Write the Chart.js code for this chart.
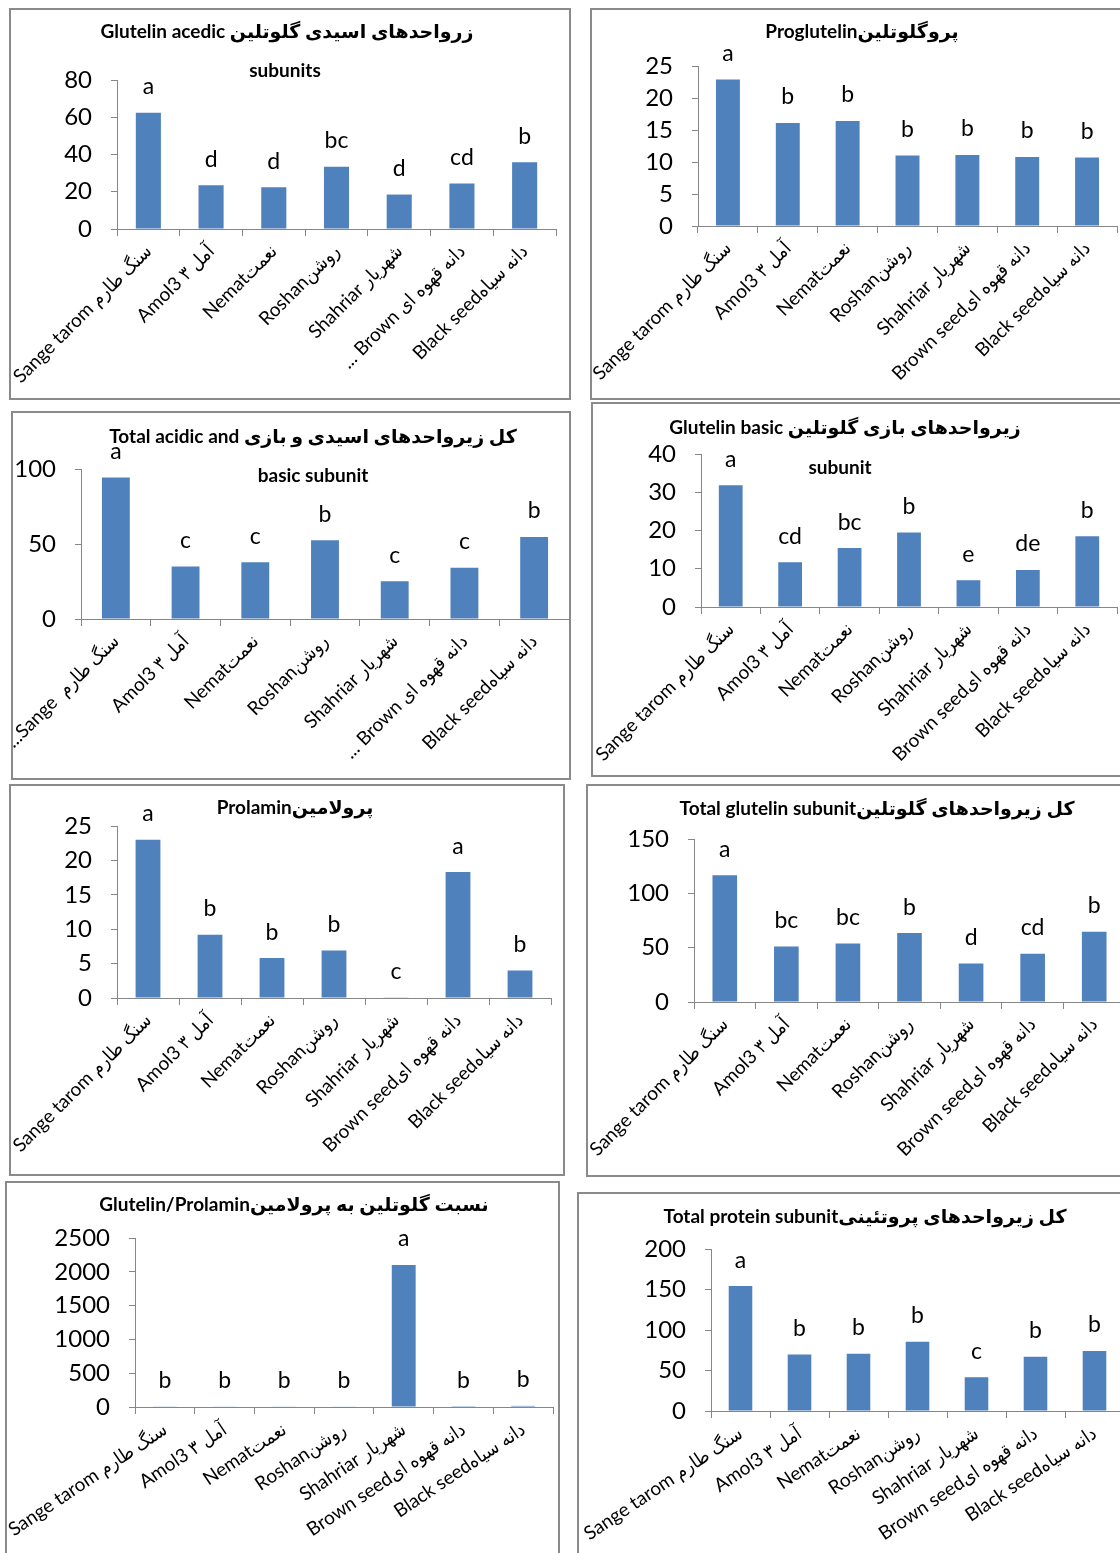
<!DOCTYPE html>
<html>
<head>
<meta charset="utf-8">
<script src="https://cdn.jsdelivr.net/npm/chart.js@4.4.0/dist/chart.umd.min.js"></script>
<style>
  body { margin: 0; width: 1120px; height: 1553px; overflow: hidden; background: #fff; position: relative;
         font-family: Lato, "DejaVu Sans", sans-serif; }
  .box { position: absolute; border: 2px solid #8a8a8a; box-sizing: border-box; }
  canvas { position: absolute; }
  .title { position: absolute; transform: translate(-50%, -50%); font-weight: bold; font-size: 19px;
           white-space: nowrap; color: #000; }
</style>
</head>
<body>
<script>
// cultivar names (some charts show truncated versions)
const cultivars = ["Sange tarom سنگ طارم", "Amol3 آمل ۳", "Nematنعمت", "Roshanروشن", "Shahriar شهریار", "Brown seedدانه قهوه ای", "Black seedدانه سیاه"];
const cultivarsCutA = ["Sange tarom سنگ طارم", "Amol3 آمل ۳", "Nematنعمت", "Roshanروشن", "Shahriar شهریار", "... Brown دانه قهوه ای", "Black seedدانه سیاه"];
const cultivarsCutB = ["...Sange  سنگ طارم", "Amol3 آمل ۳", "Nematنعمت", "Roshanروشن", "Shahriar شهریار", "... Brown دانه قهوه ای", "Black seedدانه سیاه"];

const acidic = [62.4, 23.5, 22.4, 33.4, 18.5, 24.4, 35.9];
const acidicLetters = ["a", "d", "d", "bc", "d", "cd", "b"];

const proglutelin = [22.9, 16.1, 16.4, 11.0, 11.1, 10.8, 10.7];
const proglutelinLetters = ["a", "b", "b", "b", "b", "b", "b"];

const acidicBasic = [94.4, 35.0, 37.9, 52.5, 25.1, 34.1, 54.7];
const acidicBasicLetters = ["a", "c", "c", "b", "c", "c", "b"];

const basic = [31.8, 11.7, 15.4, 19.5, 7.0, 9.7, 18.5];
const basicLetters = ["a", "cd", "bc", "b", "e", "de", "b"];

const prolamin = [23.0, 9.2, 5.8, 6.9, 0.1, 18.3, 4.0];
const prolaminLetters = ["a", "b", "b", "b", "c", "a", "b"];

const totalGlutelin = [116.6, 51.1, 53.9, 63.4, 35.5, 44.4, 64.6];
const totalGlutelinLetters = ["a", "bc", "bc", "b", "d", "cd", "b"];

const ratio = [5.1, 5.5, 9.3, 9.2, 2100, 2.4, 16.2];
const ratioLetters = ["b", "b", "b", "b", "a", "b", "b"];

const totalProtein = [154.2, 69.9, 70.8, 85.5, 41.7, 67.1, 74.0];
const totalProteinLetters = ["a", "b", "b", "b", "c", "b", "b"];

const axisColor = "#868686";
const barColor = "#4f81bd";
const fontStack = "Lato, 'DejaVu Sans Condensed', 'DejaVu Sans', sans-serif";

// box: [left, top, width, height]; plot: [left, right, top, bottom] in page pixels
const panels = [
  { labels: cultivarsCutA, values: acidic, letters: acidicLetters, max: 80, step: 20, rot: 45,
    title: ["Glutelin acedic زرواحدهای اسیدی گلوتلین", "subunits"], titleAt: [[287, 30], [285, 69]],
    box: [9, 8, 562, 392], plot: [117, 556, 80, 229] },
  { labels: cultivars, values: proglutelin, letters: proglutelinLetters, max: 25, step: 5, rot: 45,
    title: ["Proglutelinپروگلوتلین"], titleAt: [[862, 30]],
    box: [590, 8, 540, 392], plot: [698, 1117, 66, 226] },
  { labels: cultivarsCutB, values: acidicBasic, letters: acidicBasicLetters, max: 100, step: 50, rot: 45,
    title: ["Total acidic and کل زیرواحدهای اسیدی و بازی", "basic subunit"], titleAt: [[313, 435], [313, 474]],
    box: [11, 411, 560, 369], plot: [81, 569, 469, 619] },
  { labels: cultivars, values: basic, letters: basicLetters, max: 40, step: 10, rot: 45,
    title: ["Glutelin basic زیرواحدهای بازی گلوتلین", "subunit"], titleAt: [[845, 426], [840, 466]],
    box: [591, 402, 540, 375], plot: [701, 1117, 454, 607] },
  { labels: cultivars, values: prolamin, letters: prolaminLetters, max: 25, step: 5, rot: 45,
    title: ["Prolaminپرولامین"], titleAt: [[295, 806]],
    box: [9, 784, 556, 392], plot: [117, 551, 826, 998] },
  { labels: cultivars, values: totalGlutelin, letters: totalGlutelinLetters, max: 150, step: 50, rot: 45,
    title: ["Total glutelin subunitکل زیرواحدهای گلوتلین"], titleAt: [[877, 807]],
    box: [586, 784, 545, 393], plot: [694, 1125, 839, 1002] },
  { labels: cultivars, values: ratio, letters: ratioLetters, max: 2500, step: 500, rot: 34,
    title: ["Glutelin/Prolaminنسبت گلوتلین به پرولامین"], titleAt: [[294, 1203]],
    box: [5, 1181, 555, 380], plot: [135, 553, 1238, 1407] },
  { labels: cultivars, values: totalProtein, letters: totalProteinLetters, max: 200, step: 50, rot: 34,
    title: ["Total protein subunitکل زیرواحدهای پروتئینی"], titleAt: [[865, 1215]],
    box: [577, 1192, 555, 370], plot: [711, 1124, 1249, 1411] }
];

// significance letters above each bar
const letterPlugin = {
  id: "letters",
  afterDatasetsDraw(chart, args, opts) {
    const { ctx, scales: { x, y } } = chart;
    const vals = chart.data.datasets[0].data;
    ctx.save();
    ctx.font = "23px " + fontStack;
    ctx.fillStyle = "#000";
    ctx.textAlign = "center";
    ctx.textBaseline = "middle";
    opts.letters.forEach((t, i) => {
      ctx.fillText(t, x.getPixelForValue(i), y.getPixelForValue(vals[i]) - 26);
    });
    ctx.restore();
  }
};

panels.forEach(p => {
  const [bx, by, bw, bh] = p.box;
  const [pl, pr, pt, pb] = p.plot;

  const box = document.createElement("div");
  box.className = "box";
  box.style.left = bx + "px";
  box.style.top = by + "px";
  box.style.width = bw + "px";
  box.style.height = bh + "px";
  document.body.appendChild(box);

  const canvas = document.createElement("canvas");
  canvas.width = bw;
  canvas.height = bh;
  canvas.style.left = bx + "px";
  canvas.style.top = by + "px";
  canvas.style.width = bw + "px";
  canvas.style.height = bh + "px";
  document.body.appendChild(canvas);

  new Chart(canvas, {
    type: "bar",
    data: {
      labels: p.labels,
      datasets: [{
        data: p.values,
        backgroundColor: barColor,
        barPercentage: 0.4,
        categoryPercentage: 1
      }]
    },
    options: {
      responsive: false,
      animation: false,
      layout: { padding: { left: 0, top: pt - by, right: bx + bw - pr, bottom: 0 } },
      plugins: {
        legend: { display: false },
        tooltip: { enabled: false },
        letters: { letters: p.letters }
      },
      scales: {
        x: {
          grid: { offset: true, drawOnChartArea: false, tickLength: 7, color: axisColor },
          border: { color: axisColor },
          ticks: {
            minRotation: p.rot, maxRotation: p.rot, autoSkip: false, padding: 4, color: "#000",
            font: { family: fontStack, size: 19 }
          },
          afterFit: s => { s.height = bh - (pb - by); s.paddingLeft = 0; s.paddingRight = 0; }
        },
        y: {
          min: 0,
          max: p.max,
          ticks: {
            stepSize: p.step, padding: 19, color: "#000",
            font: { family: fontStack, size: 24 },
            callback: v => String(v)
          },
          grid: { drawOnChartArea: false, tickLength: 6, color: axisColor },
          border: { color: axisColor },
          afterFit: s => { s.width = pl - bx; }
        }
      }
    },
    plugins: [letterPlugin]
  });

  p.title.forEach((t, i) => {
    const d = document.createElement("div");
    d.className = "title";
    d.textContent = t;
    d.style.left = p.titleAt[i][0] + "px";
    d.style.top = p.titleAt[i][1] + "px";
    document.body.appendChild(d);
  });
});
</script>
</body>
</html>
